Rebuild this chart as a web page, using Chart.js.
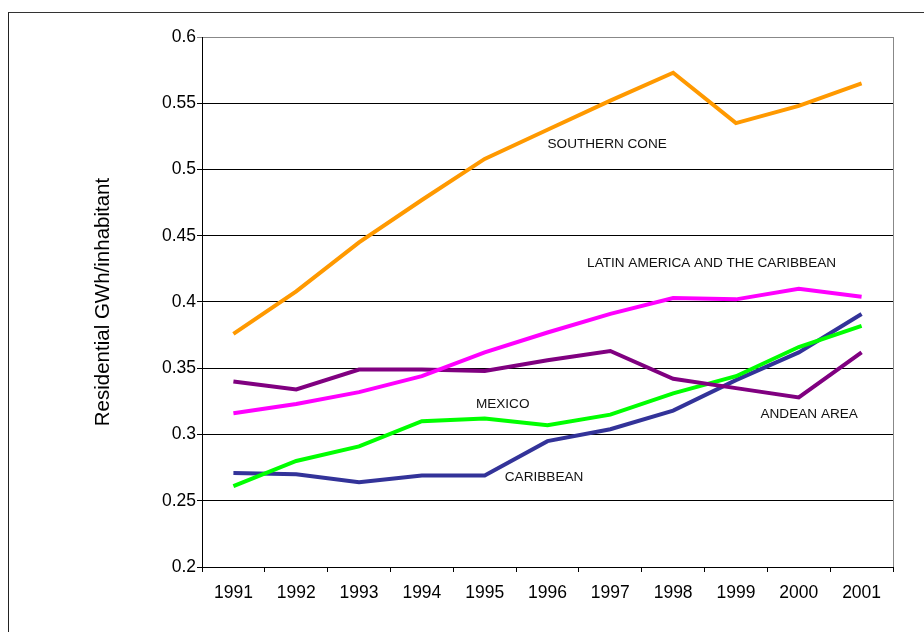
<!DOCTYPE html>
<html>
<head>
<meta charset="utf-8">
<script src="https://cdn.jsdelivr.net/npm/chart.js@4"></script>
<style>
  html, body { margin:0; padding:0; background:#fff; }
  #wrap { position:relative; width:924px; height:632px; overflow:hidden; }
  #frame { position:absolute; left:8px; top:12px; width:930px; height:640px; border-top:1px solid #333; border-left:1px solid #222; }
  canvas { position:absolute; left:0; top:0; }
</style>
</head>
<body>
<div id="wrap">
  <div id="frame"></div>
  <canvas id="chart" width="924" height="632"></canvas>
</div>
<script>
// residential electricity consumption per inhabitant
const years = ['1991','1992','1993','1994','1995','1996','1997','1998','1999','2000','2001'];

const southernCone = [0.376, 0.408, 0.445, 0.477, 0.508, 0.530, 0.552, 0.573, 0.535, 0.548, 0.565];
const latinAmerica = [0.316, 0.323, 0.332, 0.344, 0.362, 0.377, 0.391, 0.403, 0.402, 0.410, 0.404];
const andeanArea   = [0.340, 0.334, 0.349, 0.349, 0.348, 0.356, 0.363, 0.342, 0.335, 0.328, 0.362];
const mexico       = [0.261, 0.280, 0.291, 0.310, 0.312, 0.307, 0.315, 0.331, 0.344, 0.366, 0.382];
const caribbean    = [0.271, 0.270, 0.264, 0.269, 0.269, 0.295, 0.304, 0.318, 0.341, 0.362, 0.391];

const yTicks = [0.2, 0.25, 0.3, 0.35, 0.4, 0.45, 0.5, 0.55, 0.6];

// text labels placed beside the lines: [text, category position, value]
const seriesLabels = [
  ['SOUTHERN CONE', 5.0, 0.519],
  ['LATIN AMERICA AND THE CARIBBEAN', 5.63, 0.429],
  ['MEXICO', 3.86, 0.323],
  ['CARIBBEAN', 4.32, 0.268],
  ['ANDEAN AREA', 8.39, 0.3155]
];

const FONT = 'Liberation Sans, Arial, sans-serif';

const lineLabels = {
  id: 'lineLabels',
  afterDatasetsDraw(chart) {
    const { ctx, chartArea: a, scales: { x, y } } = chart;
    ctx.save();
    // gray plot border on the right
    ctx.strokeStyle = '#888';
    ctx.lineWidth = 1;
    ctx.beginPath();
    ctx.moveTo(Math.round(a.right) + 0.5, a.top);
    ctx.lineTo(Math.round(a.right) + 0.5, a.bottom);
    ctx.stroke();
    ctx.fillStyle = '#111';
    ctx.font = '13.6px ' + FONT;
    ctx.textBaseline = 'middle';
    ctx.textAlign = 'left';
    seriesLabels.forEach(([t, i, v]) => {
      ctx.fillText(t, x.getPixelForValue(i), y.getPixelForValue(v));
    });
    ctx.restore();
  }
};

const line = (data, color) => ({
  data, borderColor: color, backgroundColor: color, borderWidth: 4,
  pointRadius: 0, tension: 0, fill: false, borderJoinStyle: 'miter'
});

new Chart(document.getElementById('chart'), {
  type: 'line',
  data: {
    labels: years,
    datasets: [
      line(southernCone, '#FF9900'),
      line(latinAmerica, '#FF00FF'),
      line(andeanArea, '#800080'),
      line(mexico, '#00FF00'),
      line(caribbean, '#333399')
    ]
  },
  options: {
    responsive: false, animation: false,
    layout: { padding: { left: 10, right: 31, top: 37, bottom: 10 } },
    plugins: { legend: { display: false }, tooltip: { enabled: false } },
    scales: {
      x: {
        offset: true,
        afterFit: s => { s.height = 55; },
        grid: { offset: true, drawOnChartArea: false, drawTicks: true, tickLength: 5, color: '#000' },
        border: { color: '#000', width: 1 },
        ticks: { color: '#000', font: { family: FONT, size: 17.5 }, padding: 11, maxRotation: 0 }
      },
      y: {
        min: 0.2, max: 0.6,
        afterFit: s => { s.width = 192; },
        afterBuildTicks: s => { s.ticks = yTicks.map(v => ({ value: v })); },
        grid: { color: c => c.tick && c.tick.value === 0.6 ? '#888' : '#000', tickLength: 5, lineWidth: 1 },
        border: { color: '#000', width: 1 },
        ticks: { color: '#000', font: { family: FONT, size: 17.5 }, padding: 1,
                 callback: v => String(Number(v.toFixed(2))) },
        title: { display: true, text: 'Residential GWh/inhabitant', color: '#000',
                 font: { family: FONT, size: 20.5 }, padding: { top: 81, bottom: 0 } }
      }
    }
  },
  plugins: [lineLabels]
});
</script>
</body>
</html>
